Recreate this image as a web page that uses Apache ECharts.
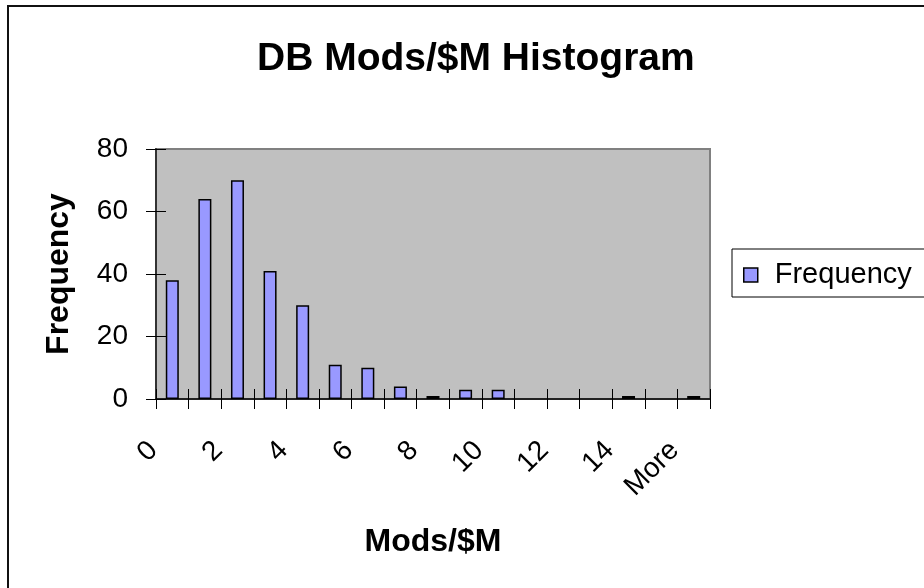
<!DOCTYPE html>
<html>
<head>
<meta charset="utf-8">
<script src="https://cdn.jsdelivr.net/npm/echarts@6/dist/echarts.min.js"></script>
<style>
html,body{margin:0;padding:0;background:#fff;}
#chart{width:924px;height:588px;}
</style>
</head>
<body>
<div id="chart"></div>
<script>
var categories = ['0','1','2','3','4','5','6','7','8','9','10','11','12','13','14','15','More'];
var frequency = [38, 64, 70, 41, 30, 11, 10, 4, 1, 3, 3, 0, 0, 0, 1, 0, 1];
var yTicks = {min: 0, max: 80, interval: 20};

var FONT = '"Liberation Sans", Arial, sans-serif';
var chart = echarts.init(document.getElementById('chart'));
chart.setOption({
  animation: false,
  backgroundColor: '#ffffff',
  textStyle: {fontFamily: FONT, color: '#000'},
  title: {
    text: 'DB Mods/$M Histogram',
    left: 252,
    top: 34,
    textStyle: {fontFamily: FONT, fontSize: 39, fontWeight: 'bold', color: '#000', lineHeight: 40}
  },
  legend: {
    left: 732,
    top: 249,
    orient: 'vertical',
    padding: [11, 40, 7, 11],
    borderColor: '#000',
    borderWidth: 1,
    itemWidth: 14,
    itemHeight: 14,
    icon: 'rect',
    itemStyle: {color: '#9999FF', borderColor: '#000', borderWidth: 1.5},
    textStyle: {fontFamily: FONT, fontSize: 29, color: '#000', lineHeight: 30, padding: [0, 0, 0, 12]},
    data: ['Frequency']
  },
  grid: {
    left: 156, right: 214, top: 149, bottom: 189,
    show: true,
    backgroundColor: '#C0C0C0',
    borderColor: '#808080',
    borderWidth: 2
  },
  xAxis: [{
    type: 'category',
    data: categories,
    position: 'bottom',
    boundaryGap: true,
    name: 'Mods/$M',
    nameLocation: 'middle',
    nameGap: 127,
    nameTextStyle: {fontFamily: FONT, fontSize: 32, fontWeight: 'bold', color: '#000', lineHeight: 32},
    axisLine: {show: true, lineStyle: {color: '#222', width: 2}},
    axisTick: {show: true, inside: false, length: 10, interval: 0, lineStyle: {color: '#000', width: 1}},
    axisLabel: {interval: 1, rotate: 45, margin: 28, fontFamily: FONT, fontSize: 28, color: '#000', padding: [0, 27, 0, 0]},
    splitLine: {show: false}
  }, {
    type: 'category',
    data: categories,
    position: 'bottom',
    boundaryGap: true,
    axisLine: {show: false},
    axisTick: {show: true, inside: true, length: 10, interval: 0, lineStyle: {color: '#000', width: 1}},
    axisLabel: {show: false},
    splitLine: {show: false}
  }],
  yAxis: [{
    type: 'value',
    position: 'left',
    min: yTicks.min, max: yTicks.max, interval: yTicks.interval,
    name: 'Frequency',
    nameLocation: 'middle',
    nameGap: 81,
    nameRotate: 90,
    nameTextStyle: {fontFamily: FONT, fontSize: 32, fontWeight: 'bold', color: '#000', lineHeight: 32},
    axisLine: {show: true, lineStyle: {color: '#333', width: 2}},
    axisTick: {show: true, inside: false, length: 10, lineStyle: {color: '#000', width: 1}},
    axisLabel: {margin: 28, fontFamily: FONT, fontSize: 28, color: '#000'},
    splitLine: {show: false}
  }, {
    type: 'value',
    position: 'left',
    min: yTicks.min, max: yTicks.max, interval: yTicks.interval,
    axisLine: {show: false},
    axisTick: {show: true, inside: true, length: 10, lineStyle: {color: '#000', width: 1}},
    axisLabel: {show: false},
    splitLine: {show: false}
  }],
  series: [{
    name: 'Frequency',
    type: 'bar',
    xAxisIndex: 0,
    yAxisIndex: 0,
    data: frequency.map(function (v) { return v === 0 ? '-' : v; }),
    barWidth: 13,
    itemStyle: {color: '#9999FF', borderColor: '#000', borderWidth: 1.5}
  }],
  graphic: [{
    type: 'rect',
    silent: true,
    z: 100,
    shape: {x: 8, y: 6, width: 2000, height: 2000},
    style: {fill: 'none', stroke: '#111', lineWidth: 2}
  }]
});
</script>
</body>
</html>
